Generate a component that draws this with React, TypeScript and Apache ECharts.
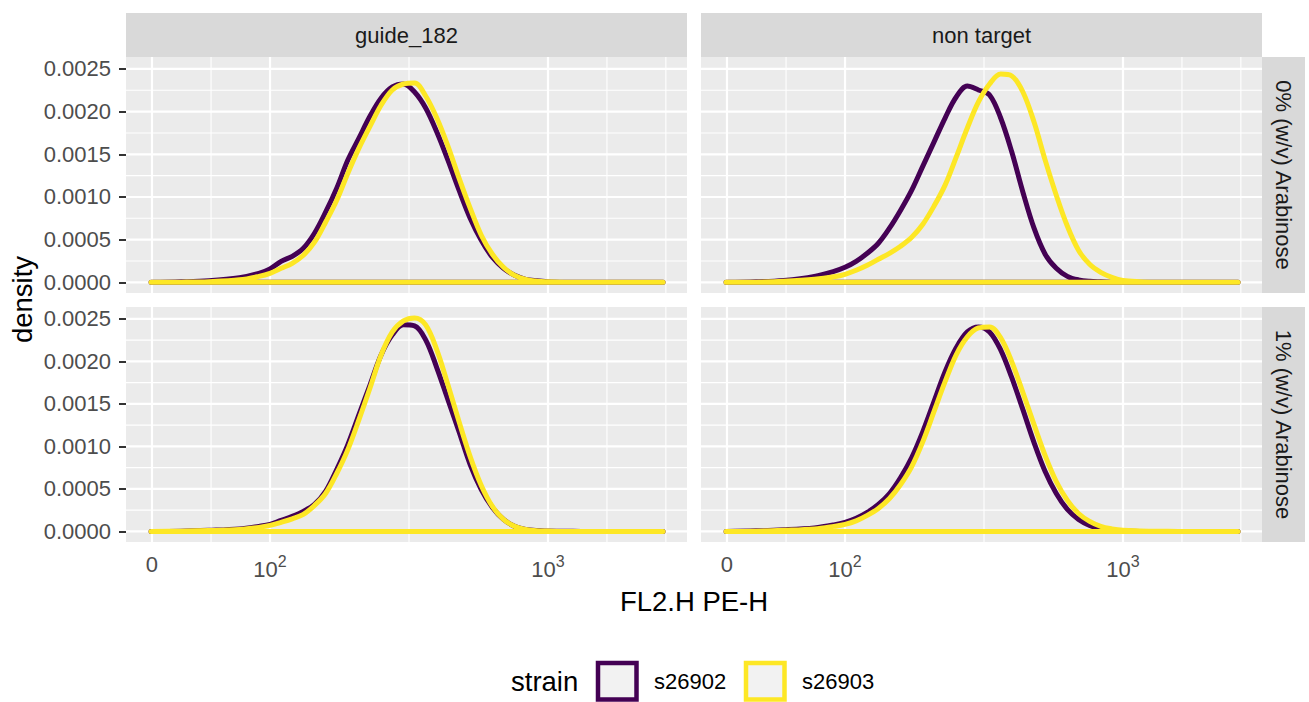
import React, { useEffect, useRef } from "react";
import * as echarts from "echarts";

// ---------- data ----------
const facetCols = ["guide_182", "non target"];
const facetRows = ["0% (w/v) Arabinose", "1% (w/v) Arabinose"];
const strains = ["s26902", "s26903"];
const strainColors = ["#440154", "#FDE725"];

// positions on the transformed FL2.H axis (2 = 10^2, 3 = 10^3, 1.5755 = 0)
const xSamples = [
  1.572, 1.68, 1.78, 1.89, 1.96, 2.0, 2.04, 2.08, 2.12, 2.16, 2.2, 2.24, 2.28, 2.32, 2.36, 2.4, 2.44, 2.48,
  2.52, 2.56, 2.6, 2.64, 2.68, 2.72, 2.76, 2.8, 2.84, 2.88, 2.92, 2.96, 3.0, 3.06, 3.12, 3.2, 3.3, 3.414,
];
const xTickValues = [1.5755, 2, 3];
const xTickLabels = ["0", "10^2", "10^3"];
const xMajorGrid = [1.5755, 2, 3];
const xMinorGrid = [1.788, 2.5, 3.212, 3.424];
const yTickValues = [0, 0.0005, 0.001, 0.0015, 0.002, 0.0025];
const yMinorGrid = [0.00025, 0.00075, 0.00125, 0.00175, 0.00225];
const xRange = [1.482, 3.5];
const yRange = [-0.000125, 0.00264];

const guide0_s26902 = [0, 0.000006, 0.000018, 0.000053, 0.000106, 0.000158, 0.000246, 0.000305, 0.000399, 0.000575, 0.000822, 0.001103, 0.001432, 0.00169, 0.001948, 0.00216, 0.002289, 0.002324, 0.00223, 0.002042, 0.001761, 0.001432, 0.00108, 0.000751, 0.000493, 0.000293, 0.000164, 0.000082, 0.000035, 0.000018, 0.000008, 0.000002, 0, 0, 0, 0];
const guide0_s26903 = [0, 0.000002, 0.000008, 0.000029, 0.00007, 0.000106, 0.000164, 0.000223, 0.000317, 0.00047, 0.000704, 0.000962, 0.001279, 0.001573, 0.001831, 0.002078, 0.002254, 0.002324, 0.002336, 0.002183, 0.001925, 0.001596, 0.001221, 0.000869, 0.000552, 0.000329, 0.000176, 0.000082, 0.000035, 0.000014, 0.000007, 0.000002, 0, 0, 0, 0];
const nontarget0_s26902 = [0, 0.000006, 0.000023, 0.00007, 0.000129, 0.000176, 0.000246, 0.00034, 0.000458, 0.000634, 0.000845, 0.00108, 0.001362, 0.001643, 0.001925, 0.002171, 0.0023, 0.002254, 0.002195, 0.001925, 0.001526, 0.001056, 0.000634, 0.000329, 0.000164, 0.00007, 0.000029, 0.000012, 0.000006, 0.000002, 0, 0, 0, 0, 0, 0];
const nontarget0_s26903 = [0, 0.000002, 0.000012, 0.000035, 0.000065, 0.000094, 0.000141, 0.0002, 0.00027, 0.00034, 0.000423, 0.000528, 0.000681, 0.000892, 0.001139, 0.001467, 0.001808, 0.002113, 0.002324, 0.002441, 0.002418, 0.00223, 0.001878, 0.001432, 0.001021, 0.000657, 0.000376, 0.000211, 0.000117, 0.000059, 0.000023, 0.000008, 0.000002, 0, 0, 0];
const guide1_s26902 = [0, 0.000002, 0.000012, 0.000029, 0.000059, 0.000082, 0.000129, 0.000176, 0.000235, 0.000317, 0.00047, 0.000728, 0.001021, 0.001373, 0.001725, 0.002078, 0.002312, 0.00243, 0.002418, 0.002254, 0.001925, 0.001549, 0.001174, 0.000786, 0.000493, 0.000282, 0.000141, 0.000059, 0.000023, 0.000009, 0.000005, 0.000001, 0, 0, 0, 0];
const guide1_s26903 = [0, 0.000002, 0.000009, 0.000023, 0.000047, 0.00007, 0.000106, 0.000147, 0.0002, 0.000305, 0.000446, 0.000681, 0.000962, 0.001315, 0.00169, 0.002078, 0.002347, 0.002477, 0.002512, 0.00243, 0.002136, 0.001725, 0.001291, 0.00088, 0.00054, 0.000293, 0.000141, 0.000059, 0.000023, 0.000008, 0.000004, 0, 0, 0, 0, 0];
const nontarget1_s26902 = [0, 0.000006, 0.000018, 0.000041, 0.000076, 0.000106, 0.000153, 0.000223, 0.000317, 0.000446, 0.000634, 0.000869, 0.001174, 0.001526, 0.001878, 0.00216, 0.002347, 0.002406, 0.002347, 0.002136, 0.001808, 0.001432, 0.001045, 0.000704, 0.000446, 0.000258, 0.000141, 0.00007, 0.000029, 0.000012, 0.000005, 0, 0, 0, 0, 0];
const nontarget1_s26903 = [0, 0.000002, 0.000012, 0.000029, 0.000059, 0.000082, 0.000123, 0.000188, 0.00027, 0.000387, 0.000552, 0.000763, 0.001056, 0.001408, 0.001761, 0.002078, 0.002289, 0.002394, 0.002406, 0.002277, 0.001995, 0.001632, 0.001256, 0.000892, 0.000587, 0.000364, 0.000211, 0.000117, 0.000059, 0.000029, 0.000012, 0.000005, 0.000001, 0, 0, 0];

// panel order: row-major (row = arabinose, col = guide)
const panelSeries = [
  [guide0_s26902, guide0_s26903],
  [nontarget0_s26902, nontarget0_s26903],
  [guide1_s26902, guide1_s26903],
  [nontarget1_s26902, nontarget1_s26903],
];

// ---------- layout ----------
const FONT = "Liberation Sans, Arial, Helvetica, sans-serif";
const colLeft = [126, 701];
const panelW = 561;
const rowTop = [57, 307];
const rowH = [236, 235];
const stripH = 44;
const stripW = 43;

function gridLineSeries(i: number, pts: number[][], width: number) {
  return {
    type: "line",
    xAxisIndex: i,
    yAxisIndex: i,
    data: pts,
    symbol: "none",
    showSymbol: false,
    silent: true,
    z: 1,
    lineStyle: { color: "#FFFFFF", width, type: "solid" },
  };
}

function buildOption() {
  const grids: any[] = [];
  const xAxes: any[] = [];
  const yAxes: any[] = [];
  const series: any[] = [];
  const graphics: any[] = [];

  for (let r = 0; r < 2; r++) {
    for (let c = 0; c < 2; c++) {
      const i = r * 2 + c;
      grids.push({
        left: colLeft[c],
        top: rowTop[r],
        width: panelW,
        height: rowH[r],
        show: true,
        backgroundColor: "#EBEBEB",
        borderWidth: 0,
        containLabel: false,
      });
      const showX = r === 1;
      const showY = c === 0;
      xAxes.push({
        type: "value",
        gridIndex: i,
        min: xRange[0],
        max: xRange[1],
        axisLine: { show: false },
        splitLine: { show: false },
        axisTick: {
          show: showX,
          customValues: xTickValues,
          length: 7,
          lineStyle: { color: "#333333", width: 2 },
        },
        axisLabel: {
          show: showX,
          customValues: xTickValues,
          margin: 11,
          color: "#4D4D4D",
          fontSize: 22,
          fontFamily: FONT,
          formatter: (v: number) => {
            let k = 0;
            xTickValues.forEach((t, j) => {
              if (Math.abs(t - v) < 0.01) k = j;
            });
            const lab = xTickLabels[k];
            if (lab.indexOf("^") >= 0) {
              const [b, s] = lab.split("^");
              return "{b|" + b + "}{s|" + s + "}";
            }
            return lab;
          },
          rich: {
            b: { fontSize: 22, color: "#4D4D4D", fontFamily: FONT, verticalAlign: "bottom" },
            s: { fontSize: 16, color: "#4D4D4D", fontFamily: FONT, verticalAlign: "top", padding: [0, 0, 11, 0] },
          },
        },
      });
      yAxes.push({
        type: "value",
        gridIndex: i,
        min: yRange[0],
        max: yRange[1],
        axisLine: { show: false },
        splitLine: { show: false },
        axisTick: {
          show: showY,
          customValues: yTickValues,
          length: 7,
          lineStyle: { color: "#333333", width: 2 },
        },
        axisLabel: {
          show: showY,
          customValues: yTickValues,
          margin: 15,
          color: "#4D4D4D",
          fontSize: 22,
          fontFamily: FONT,
          formatter: (v: number) => v.toFixed(4),
        },
      });

      // panel gridlines (minor then major)
      yMinorGrid.forEach((v) => series.push(gridLineSeries(i, [[xRange[0], v], [xRange[1], v]], 1.1)));
      xMinorGrid.forEach((v) => series.push(gridLineSeries(i, [[v, yRange[0]], [v, yRange[1]]], 1.1)));
      yTickValues.forEach((v) => series.push(gridLineSeries(i, [[xRange[0], v], [xRange[1], v]], 2.2)));
      xMajorGrid.forEach((v) => series.push(gridLineSeries(i, [[v, yRange[0]], [v, yRange[1]]], 2.2)));

      panelSeries[i].forEach((vals, s) => {
        const pts: number[][] = xSamples.map((x, k) => [x, vals[k]]);
        pts.push([xSamples[0], 0]); // close the density polygon along the baseline
        series.push({
          type: "line",
          name: strains[s],
          xAxisIndex: i,
          yAxisIndex: i,
          data: pts,
          smooth: 0.35,
          symbol: "none",
          showSymbol: false,
          silent: true,
          z: 3 + s,
          lineStyle: { color: strainColors[s], width: 5, cap: "round", join: "round" },
        });
      });
    }
  }

  // top strips
  for (let c = 0; c < 2; c++) {
    graphics.push({
      type: "rect",
      shape: { x: colLeft[c], y: rowTop[0] - stripH, width: panelW, height: stripH },
      style: { fill: "#D9D9D9" },
      silent: true,
    });
    graphics.push({
      type: "text",
      x: colLeft[c] + panelW / 2,
      y: rowTop[0] - stripH / 2,
      style: {
        text: facetCols[c],
        fill: "#1A1A1A",
        fontSize: 22,
        fontFamily: FONT,
        textAlign: "center",
        textVerticalAlign: "middle",
      },
      silent: true,
    });
  }
  // right strips
  for (let r = 0; r < 2; r++) {
    const x0 = colLeft[1] + panelW;
    graphics.push({
      type: "rect",
      shape: { x: x0, y: rowTop[r], width: stripW, height: rowH[r] },
      style: { fill: "#D9D9D9" },
      silent: true,
    });
    graphics.push({
      type: "text",
      x: x0 + stripW / 2,
      y: rowTop[r] + rowH[r] / 2,
      rotation: -Math.PI / 2,
      style: {
        text: facetRows[r],
        fill: "#1A1A1A",
        fontSize: 22,
        fontFamily: FONT,
        textAlign: "center",
        textVerticalAlign: "middle",
      },
      silent: true,
    });
  }
  // axis titles
  graphics.push({
    type: "text",
    x: (colLeft[0] + colLeft[1] + panelW) / 2,
    y: 601.5,
    style: {
      text: "FL2.H PE-H",
      fill: "#000000",
      fontSize: 27.5,
      fontFamily: FONT,
      textAlign: "center",
      textVerticalAlign: "middle",
    },
    silent: true,
  });
  graphics.push({
    type: "text",
    x: 22.5,
    y: (rowTop[0] + rowTop[1] + rowH[1]) / 2,
    rotation: Math.PI / 2,
    style: {
      text: "density",
      fill: "#000000",
      fontSize: 27.5,
      fontFamily: FONT,
      textAlign: "center",
      textVerticalAlign: "middle",
    },
    silent: true,
  });
  // legend
  graphics.push({
    type: "text",
    x: 511,
    y: 681,
    style: {
      text: "strain",
      fill: "#000000",
      fontSize: 27.5,
      fontFamily: FONT,
      textAlign: "left",
      textVerticalAlign: "middle",
    },
    silent: true,
  });
  const keyX = [598, 746];
  const labX = [654, 802];
  strains.forEach((s, k) => {
    graphics.push({
      type: "rect",
      shape: { x: keyX[k], y: 663, width: 38.5, height: 36.5 },
      style: { fill: "#F2F2F2", stroke: strainColors[k], lineWidth: 4.5 },
      silent: true,
    });
    graphics.push({
      type: "text",
      x: labX[k],
      y: 681.5,
      style: {
        text: s,
        fill: "#000000",
        fontSize: 22,
        fontFamily: FONT,
        textAlign: "left",
        textVerticalAlign: "middle",
      },
      silent: true,
    });
  });

  return {
    animation: false,
    backgroundColor: "#FFFFFF",
    textStyle: { fontFamily: FONT },
    grid: grids,
    xAxis: xAxes,
    yAxis: yAxes,
    series,
    graphic: graphics,
  };
}

export default function App() {
  const ref = useRef<HTMLDivElement>(null);
  useEffect(() => {
    if (!ref.current) return;
    const chart = echarts.init(ref.current, undefined, { renderer: "svg" });
    chart.setOption(buildOption() as any);
    return () => chart.dispose();
  }, []);
  return (
    <div
      ref={ref}
      style={{ position: "absolute", left: 0, top: 0, width: 1309, height: 702, background: "#FFFFFF" }}
    />
  );
}
